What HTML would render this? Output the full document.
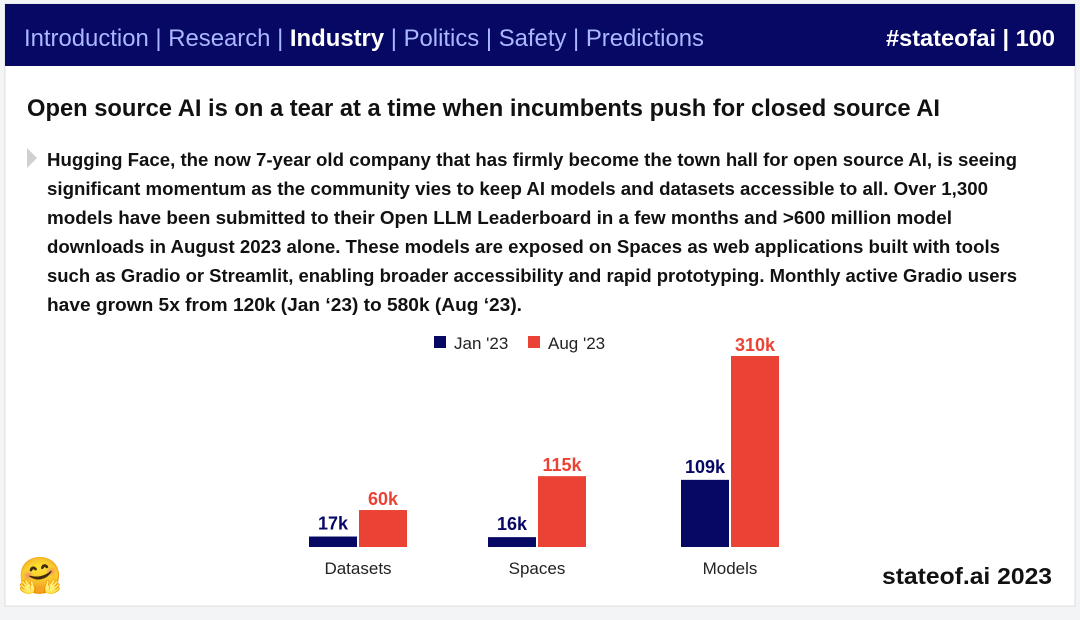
<!DOCTYPE html>
<html><head><meta charset="utf-8"><style>
body{margin:0;width:1080px;height:615px;background:#f3f4f6;overflow:hidden;font-family:"Liberation Sans",sans-serif}
</style></head><body>
<svg width="1080" height="615" xmlns="http://www.w3.org/2000/svg" font-family="Liberation Sans, sans-serif">
<rect x="5" y="4" width="1070" height="602" fill="#fff" stroke="#ddd"/>
<rect x="5" y="4" width="1070" height="62" fill="#070764"/>
<text x="24" y="46" font-size="24" fill="#a9b8ff" textLength="680" lengthAdjust="spacingAndGlyphs">Introduction | Research | <tspan fill="#fff" font-weight="bold">Industry</tspan> | Politics | Safety | Predictions</text>
<text x="886" y="46" font-size="23" font-weight="bold" fill="#fff" textLength="169" lengthAdjust="spacingAndGlyphs">#stateofai | 100</text>
<text x="27" y="116" font-size="24" font-weight="bold" fill="#111" textLength="913" lengthAdjust="spacingAndGlyphs">Open source AI is on a tear at a time when incumbents push for closed source AI</text>
<polygon points="27,148 37,158 27,168" fill="#d0d0d0"/>
<g font-size="18" font-weight="bold" fill="#111">
<text x="47" y="166" textLength="970" lengthAdjust="spacingAndGlyphs">Hugging Face, the now 7-year old company that has firmly become the town hall for open source AI, is seeing</text>
<text x="47" y="195" textLength="941" lengthAdjust="spacingAndGlyphs">significant momentum as the community vies to keep AI models and datasets accessible to all. Over 1,300</text>
<text x="47" y="224" textLength="905" lengthAdjust="spacingAndGlyphs">models have been submitted to their Open LLM Leaderboard in a few months and &gt;600 million model</text>
<text x="47" y="253" textLength="953" lengthAdjust="spacingAndGlyphs">downloads in August 2023 alone. These models are exposed on Spaces as web applications built with tools</text>
<text x="47" y="282" textLength="970" lengthAdjust="spacingAndGlyphs">such as Gradio or Streamlit, enabling broader accessibility and rapid prototyping. Monthly active Gradio users</text>
<text x="47" y="311" textLength="475" lengthAdjust="spacingAndGlyphs">have grown 5x from 120k (Jan ‘23) to 580k (Aug ‘23).</text>
</g>
<g>
<rect x="434" y="336" width="12" height="12" fill="#070764"/>
<text x="454" y="349" font-size="17" fill="#222">Jan '23</text>
<rect x="528" y="336" width="12" height="12" fill="#ea4335"/>
<text x="548" y="349" font-size="17" fill="#222">Aug '23</text>
</g>
<g id="chart"></g>
<text x="40" y="588" font-size="36" text-anchor="middle">🤗</text>
<text x="882" y="584" font-size="23" font-weight="bold" fill="#111" textLength="170" lengthAdjust="spacingAndGlyphs">stateof.ai 2023</text>
</svg>
<script>
const categories = ["Datasets","Spaces","Models"];
const janValues = [17,16,109];
const augValues = [60,115,310];
const janLabels = ["17k","16k","109k"];
const augLabels = ["60k","115k","310k"];

const NS="http://www.w3.org/2000/svg";
const g=document.getElementById('chart');
const baseY=547, topY=356, maxV=310;
const centers=[358,537,730];
const bw=48, gap=2;
function y(v){return baseY-(v/maxV)*(baseY-topY);}
function mk(tag,attrs){const e=document.createElementNS(NS,tag);for(const k in attrs)e.setAttribute(k,attrs[k]);g.appendChild(e);return e;}
categories.forEach((c,i)=>{
  const cx=centers[i];
  const r1=mk('rect',{x:cx-bw-gap/2,y:y(janValues[i]),width:bw,height:baseY-y(janValues[i]),fill:'#070764'});
  
  
  const r2=mk('rect',{x:cx+gap/2,y:y(augValues[i]),width:bw,height:baseY-y(augValues[i]),fill:'#ea4335'});
  
  
  const t1=mk('text',{x:cx-bw/2-gap/2,y:y(janValues[i])-7,'font-size':18,'font-weight':'bold',fill:'#070764','text-anchor':'middle'});
  t1.textContent=janLabels[i];
  
  
  const t2=mk('text',{x:cx+bw/2+gap/2,y:y(augValues[i])-5,'font-size':18,'font-weight':'bold',fill:'#ea4335','text-anchor':'middle'});
  t2.textContent=augLabels[i];
  
  
  const t3=mk('text',{x:cx,y:574,'font-size':17,fill:'#222','text-anchor':'middle'});
  t3.textContent=c;
  
  
});
</script>
</body></html>
